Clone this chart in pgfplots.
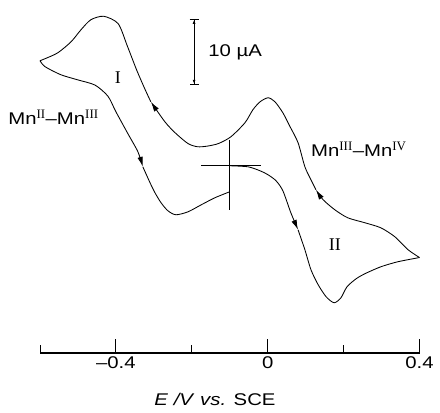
\documentclass[border=0pt]{standalone}
\usepackage{fontspec}
\setmainfont{Liberation Sans}
\newfontfamily\wide[FakeStretch=1.2]{Liberation Sans}
\newfontfamily\serif{Liberation Serif}
\usepackage{pgfplots}
\pgfplotsset{compat=1.18}
\usetikzlibrary{arrows.meta}

\newcommand{\lbl}{\wide\fontsize{17}{20}\selectfont}
\newcommand{\rn}[1]{\textsuperscript{\serif\fontsize{13}{15}\selectfont #1}}

\begin{document}
\begin{tikzpicture}[tip/.style={-{Latex[length=10bp,width=5.5bp]}}]
\begin{axis}[
    at={(0,0)}, anchor=south west,
    scale only axis,
    width=379.5bp, height=353bp,
    xmin=-0.6, xmax=0.4,
    ymin=-25.3, ymax=22.4,
    axis x line*=bottom,
    axis y line=none,
    xtick={-0.4,0,0.4},
    xticklabels={\textendash0.4,0,0.4},
    minor xtick={-0.6,-0.2,0.2},
    tick align=inside,
    major tick length=14bp,
    minor tick length=8bp,
    tick style={line width=1bp, black},
    axis line style={line width=1.2bp},
    xticklabel style={font=\lbl},
    xlabel={\textit{E} \textit{/V} \textit{vs.} SCE},
    xlabel style={font=\lbl, at={(axis description cs:0.461,0)}, anchor=center, yshift=-46bp},
    clip=false,
    every axis plot/.append style={no marks, smooth, tension=0.45, line width=0.85bp, black, solid},
]
% forward scan from -0.1 V
\addplot[tip] coordinates {
    (-0.100,0.00) (-0.052,-0.14) (-0.020,-0.68) (0.001,-1.22) (0.022,-2.03)
    (0.040,-3.38) (0.061,-6.35) (0.080,-8.65)
};
\addplot[] coordinates {
    (0.080,-8.65) (0.098,-11.35) (0.114,-14.05) (0.133,-16.08) (0.154,-17.70)
    (0.175,-18.51) (0.193,-17.84) (0.209,-16.35) (0.233,-15.27) (0.256,-14.59)
    (0.298,-13.65) (0.343,-12.97) (0.400,-12.40)
};
% reverse scan
\addplot[tip] coordinates {
    (0.400,-12.40) (0.370,-11.35) (0.335,-9.59) (0.298,-8.38) (0.256,-7.70)
    (0.211,-7.03) (0.177,-5.95) (0.146,-4.59) (0.127,-3.24)
};
\addplot[tip] coordinates {
    (0.127,-3.24) (0.114,-1.89) (0.098,-0.14) (0.080,3.11) (0.059,5.27)
    (0.040,7.16) (0.019,8.65) (0.001,9.19) (-0.020,8.65) (-0.039,7.57)
    (-0.060,5.81) (-0.097,3.92) (-0.130,3.00) (-0.160,2.65) (-0.185,2.57)
    (-0.210,3.00) (-0.244,4.46) (-0.271,5.95) (-0.308,8.65)
};
\addplot[] coordinates {
    (-0.308,8.65) (-0.323,10.30) (-0.345,12.90) (-0.370,16.20) (-0.394,19.20)
    (-0.432,20.20) (-0.466,19.73) (-0.492,18.38) (-0.518,16.76) (-0.553,15.27)
    (-0.587,14.46) (-0.600,14.20)
};
% forward scan back to -0.1 V
\addplot[tip] coordinates {
    (-0.600,14.20) (-0.587,13.40) (-0.545,12.30) (-0.500,11.60) (-0.455,10.90)
    (-0.421,9.40) (-0.400,7.30) (-0.368,4.30) (-0.342,1.89) (-0.329,-0.14)
};
\addplot[] coordinates {
    (-0.329,-0.14) (-0.310,-2.30) (-0.297,-3.65) (-0.281,-5.00) (-0.263,-6.08)
    (-0.242,-6.62) (-0.210,-6.22) (-0.175,-5.27) (-0.139,-4.32) (-0.100,-3.51)
};

% start cross
\draw[line width=1.4bp] (axis cs:-0.175,0) -- (axis cs:-0.018,0);
\draw[line width=1.4bp] (axis cs:-0.100,3.5) -- (axis cs:-0.100,-6.0);

% current scale bar
\draw[line width=1bp, {Bar[width=9bp,sep=4bp]Latex[length=4bp,width=3bp]}-{Latex[length=4bp,width=3bp]Bar[width=9bp,sep=4bp]}]
    (axis cs:-0.194,20.4) -- (axis cs:-0.194,10.4);
\node[font=\lbl, anchor=base west, inner sep=0] at (axis cs:-0.157,14.7) {10 µA};

% labels
\node[font=\serif\fontsize{18}{20}\selectfont, inner sep=0] at (axis cs:-0.395,11.9) {I};
\node[font=\serif\fontsize{18}{20}\selectfont, inner sep=0] at (axis cs:0.177,-10.7) {II};
\node[font=\lbl, anchor=base west, inner sep=0] at (axis cs:-0.684,5.54) {Mn\rn{II}\textendash Mn\rn{III}};
\node[font=\lbl, anchor=base west, inner sep=0] at (axis cs:0.114,1.22) {Mn\rn{III}\textendash Mn\rn{IV}};
\end{axis}
\pgfresetboundingbox
\path (-40bp,-60bp) rectangle (400bp,353bp);
\end{tikzpicture}
\end{document}
